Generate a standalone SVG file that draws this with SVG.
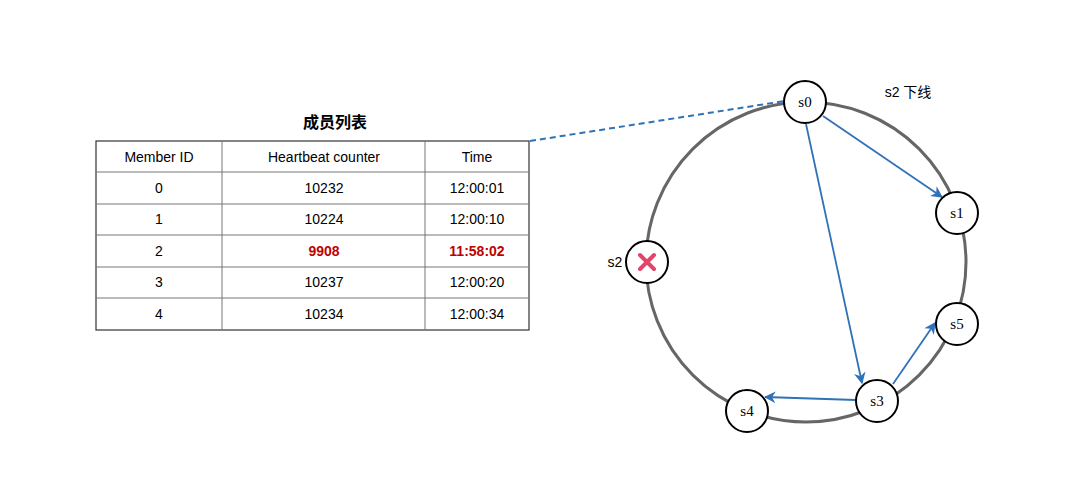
<svg xmlns="http://www.w3.org/2000/svg" width="1066" height="479" viewBox="0 0 1066 479">
<defs>
<style>
.t{font-family:"Liberation Sans",Arial,sans-serif;font-size:14px;fill:#000;text-anchor:middle;dominant-baseline:central}
.red{fill:#c00000;font-weight:bold}
.cell{fill:none;stroke:#777;stroke-width:1}
.node{fill:#fff;stroke:#000;stroke-width:2}
.nl{font-family:"Liberation Serif","DejaVu Serif",serif;font-size:15px;text-anchor:middle;dominant-baseline:central;font-variant-numeric:oldstyle-nums}
.edge{stroke:#2f72b8;stroke-width:1.8;fill:none;marker-end:url(#ah)}
</style>
<marker id="ah" viewBox="0 0 10 10" refX="9" refY="5" markerWidth="6.5" markerHeight="6.5" orient="auto" markerUnits="strokeWidth">
<path d="M0,0 L10,5 L0,10 L3,5 Z" fill="#2f72b8"/>
</marker>
</defs>
<rect width="1066" height="479" fill="#fff"/>
<g id="table">
<text x="335" y="122" class="t" style="font-weight:bold;font-size:16px;font-family:'Liberation Sans','Noto Sans CJK SC',sans-serif">成员列表</text>
<rect x="96" y="141" width="433" height="189" fill="none" stroke="#333" stroke-width="1.2"/>
<path class="cell" d="M222,141V330M425,141V330M96,172H529M96,204H529M96,235H529M96,267H529M96,298H529"/>
<text class="t" x="159" y="157">Member ID</text>
<text class="t" x="324" y="157">Heartbeat counter</text>
<text class="t" x="477" y="157">Time</text>
<text class="t" x="159" y="188">0</text><text class="t" x="324" y="188">10232</text><text class="t" x="477" y="188">12:00:01</text>
<text class="t" x="159" y="219">1</text><text class="t" x="324" y="219">10224</text><text class="t" x="477" y="219">12:00:10</text>
<text class="t" x="159" y="251">2</text><text class="t red" x="324" y="251">9908</text><text class="t red" x="477" y="251">11:58:02</text>
<text class="t" x="159" y="282">3</text><text class="t" x="324" y="282">10237</text><text class="t" x="477" y="282">12:00:20</text>
<text class="t" x="159" y="314">4</text><text class="t" x="324" y="314">10234</text><text class="t" x="477" y="314">12:00:34</text>
</g>
<g id="ring">
<circle cx="806" cy="262" r="160" fill="none" stroke="#666" stroke-width="3"/>
</g>
<g id="connectors">
<path d="M530,141 L785,101" stroke="#2f72b8" stroke-width="2" stroke-dasharray="6,4" fill="none"/>
<path class="edge" d="M823,116 L942,197"/>
<path class="edge" d="M806,124 L862,383"/>
<path class="edge" d="M893,384 L935,323"/>
<path class="edge" d="M856,400 L765,397"/>
</g>
<g id="s0"><circle class="node" cx="805" cy="102" r="21"/><text class="nl" x="805" y="102">s0</text></g>
<g id="s1"><circle class="node" cx="957" cy="213" r="21"/><text class="nl" x="957" y="213">s1</text></g>
<g id="s2"><circle class="node" cx="647" cy="262" r="21"/>
<path d="M640,255 L654,269 M654,255 L640,269" stroke="#e0456a" stroke-width="4" stroke-linecap="round"/>
<text class="t" x="615" y="262">s2</text></g>
<g id="s5"><circle class="node" cx="957" cy="324" r="21"/><text class="nl" x="957" y="324">s5</text></g>
<g id="s3"><circle class="node" cx="877" cy="401" r="21"/><text class="nl" x="877" y="401">s3</text></g>
<g id="s4"><circle class="node" cx="747" cy="411" r="21"/><text class="nl" x="747" y="411">s4</text></g>
<text x="908" y="92" class="t" style="font-family:'Liberation Sans','Noto Sans CJK SC',sans-serif">s2 下线</text>
</svg>
